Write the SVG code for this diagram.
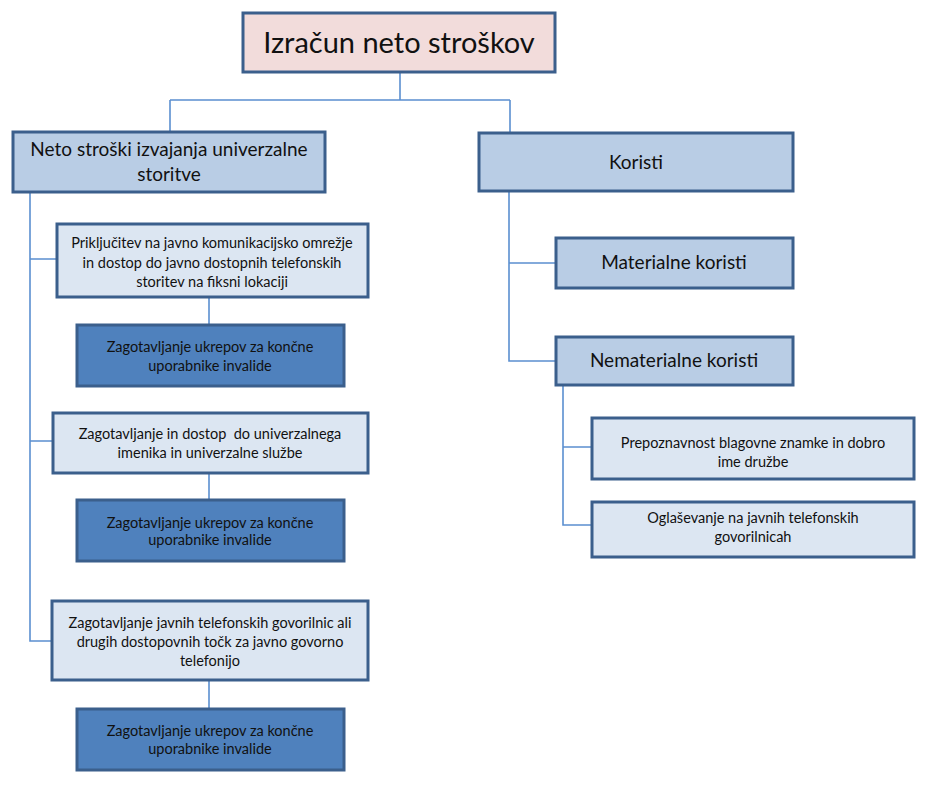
<svg xmlns="http://www.w3.org/2000/svg" width="926" height="786" viewBox="0 0 926 786">
<style>
  text { font-family: Lato, "Open Sans", "Liberation Sans", sans-serif; fill: #111111; text-anchor: middle; }
  .box { stroke: #3B5F8C; stroke-width: 3; }
  .top { fill: #F2DCDB; }
  .mid { fill: #B9CDE5; }
  .light { fill: #DCE6F2; }
  .dark { fill: #4F81BD; }
  .conn { fill: none; stroke: #5B8FD0; stroke-width: 1.6; }
  .t30 { font-size: 29px; }
  .t19 { font-size: 19px; }
  .t14 { font-size: 14.5px; }
</style>
<rect width="926" height="786" fill="#ffffff"/>
<g id="connectors">
  <path class="conn" d="M400,72 V100 M170,100 H510 M170,100 V132 M510,100 V133"/>
  <path class="conn" d="M30,192 V641 H52 M30,259 H57 M30,441 H53"/>
  <path class="conn" d="M209,297 V325 M209,473 V500 M209,680 V709"/>
  <path class="conn" d="M509,191 V361 H556 M509,263 H556"/>
  <path class="conn" d="M563,385 V525 H592 M563,447 H592"/>
</g>
<g id="n-root">
  <rect class="box top" x="243" y="13" width="312" height="59"/>
  <text class="t30" x="399" y="53">Izračun neto stroškov</text>
</g>
<g id="n-neto">
  <rect class="box mid" x="13" y="132" width="312" height="60"/>
  <text class="t19" x="169" y="156">Neto stroški izvajanja univerzalne</text>
  <text class="t19" x="169" y="181">storitve</text>
</g>
<g id="n-prik">
  <rect class="box light" x="57" y="224" width="311" height="73"/>
  <text class="t14" x="212" y="248">Priključitev na javno komunikacijsko omrežje</text>
  <text class="t14" x="212" y="268">in dostop do javno dostopnih telefonskih</text>
  <text class="t14" x="212" y="287">storitev na fiksni lokaciji</text>
</g>
<g id="n-inv1">
  <rect class="box dark" x="77" y="325" width="267" height="61"/>
  <text class="t14" x="210" y="352">Zagotavljanje ukrepov za končne</text>
  <text class="t14" x="210" y="371">uporabnike invalide</text>
</g>
<g id="n-imenik">
  <rect class="box light" x="53" y="413" width="315" height="60"/>
  <text class="t14" x="210" y="439" xml:space="preserve">Zagotavljanje in dostop  do univerzalnega</text>
  <text class="t14" x="210" y="458">imenika in univerzalne službe</text>
</g>
<g id="n-inv2">
  <rect class="box dark" x="77" y="500" width="267" height="61"/>
  <text class="t14" x="210" y="528">Zagotavljanje ukrepov za končne</text>
  <text class="t14" x="210" y="545">uporabnike invalide</text>
</g>
<g id="n-govor">
  <rect class="box light" x="52" y="601" width="316" height="79"/>
  <text class="t14" x="210" y="628">Zagotavljanje javnih telefonskih govorilnic ali</text>
  <text class="t14" x="210" y="647">drugih dostopovnih točk za javno govorno</text>
  <text class="t14" x="210" y="666">telefonijo</text>
</g>
<g id="n-inv3">
  <rect class="box dark" x="77" y="709" width="267" height="61"/>
  <text class="t14" x="210" y="736">Zagotavljanje ukrepov za končne</text>
  <text class="t14" x="210" y="754">uporabnike invalide</text>
</g>
<g id="n-koristi">
  <rect class="box mid" x="479" y="133" width="314" height="58"/>
  <text class="t19" x="636" y="169">Koristi</text>
</g>
<g id="n-mat">
  <rect class="box mid" x="556" y="238" width="237" height="50"/>
  <text class="t19" x="674" y="269">Materialne koristi</text>
</g>
<g id="n-nemat">
  <rect class="box mid" x="556" y="337" width="237" height="48"/>
  <text class="t19" x="674" y="367">Nematerialne koristi</text>
</g>
<g id="n-prep">
  <rect class="box light" x="592" y="418" width="322" height="61"/>
  <text class="t14" x="753" y="448">Prepoznavnost blagovne znamke in dobro</text>
  <text class="t14" x="753" y="467">ime družbe</text>
</g>
<g id="n-ogl">
  <rect class="box light" x="592" y="502" width="322" height="55"/>
  <text class="t14" x="753" y="523">Oglaševanje na javnih telefonskih</text>
  <text class="t14" x="753" y="542">govorilnicah</text>
</g>
</svg>
